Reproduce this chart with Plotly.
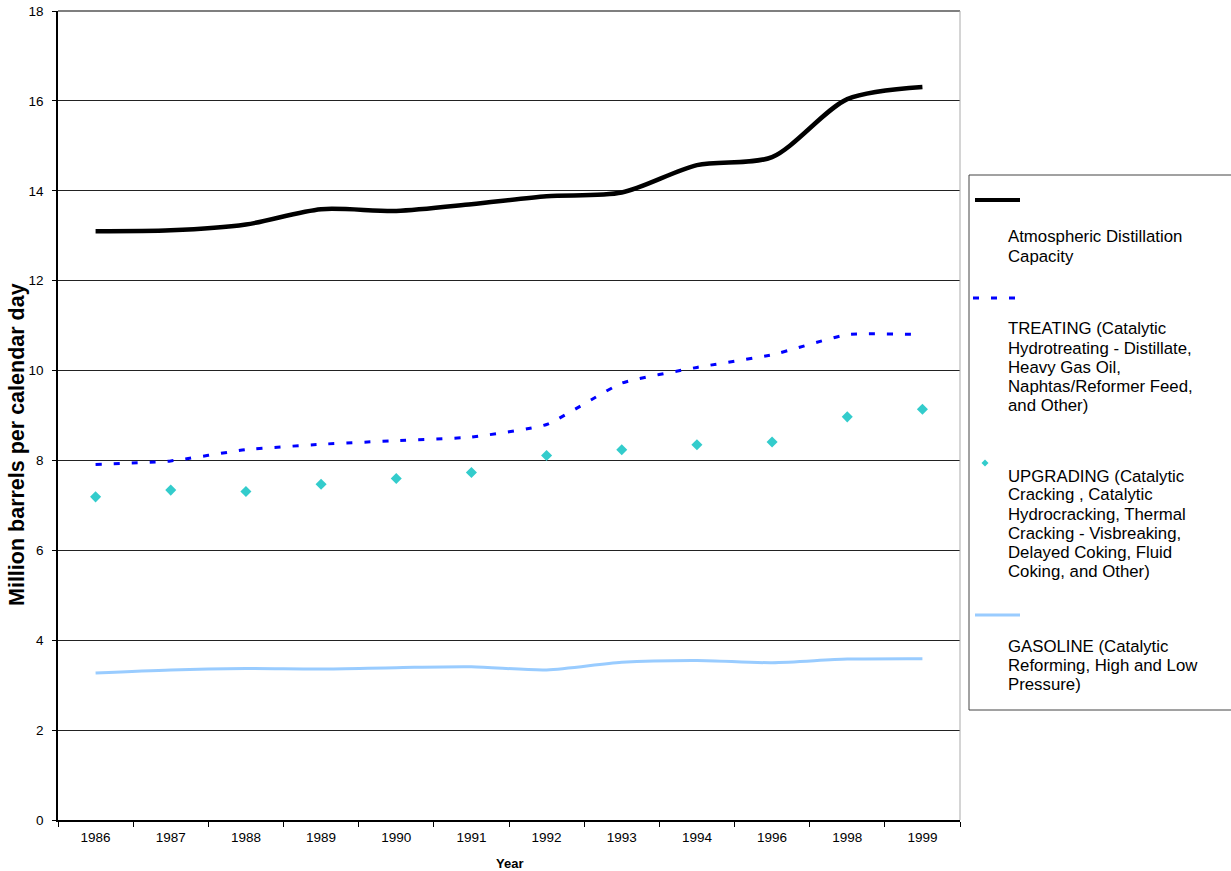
import plotly.graph_objects as go

# Refinery capacity by process type, million barrels per calendar day
years = ["1986", "1987", "1988", "1989", "1990", "1991",
         "1992", "1993", "1994", "1996", "1998", "1999"]
atmospheric = [13.10, 13.12, 13.25, 13.59, 13.55, 13.70,
               13.88, 13.96, 14.57, 14.75, 16.04, 16.31]
treating = [7.91, 7.99, 8.24, 8.36, 8.44, 8.52,
            8.80, 9.72, 10.07, 10.35, 10.80, 10.80]
upgrading = [7.19, 7.34, 7.31, 7.47, 7.60, 7.73,
             8.11, 8.24, 8.35, 8.41, 8.97, 9.14]
gasoline = [3.27, 3.34, 3.37, 3.36, 3.39, 3.41,
            3.34, 3.51, 3.55, 3.50, 3.58, 3.59]

y_ticks = list(range(0, 19, 2))

legend_blocks = [
    ["Atmospheric Distillation", "Capacity"],
    ["TREATING (Catalytic", "Hydrotreating - Distillate,", "Heavy Gas Oil,",
     "Naphtas/Reformer Feed,", "and Other)"],
    ["UPGRADING (Catalytic", "Cracking , Catalytic", "Hydrocracking, Thermal",
     "Cracking - Visbreaking,", "Delayed Coking, Fluid", "Coking, and Other)"],
    ["GASOLINE (Catalytic", "Reforming, High and Low", "Pressure)"],
]

FONT = "Liberation Sans, Arial, sans-serif"
W, H = 1231, 871
L, R, T, B = 58, 960, 11, 820  # plot area in pixels


def px(x):
    return (x - L) / (R - L)


def py(y):
    return (B - y) / (B - T)


fig = go.Figure()
fig.add_trace(go.Scatter(x=years, y=atmospheric, mode="lines",
                         line=dict(color="#000000", width=4.5, shape="spline", smoothing=0.8)))
fig.add_trace(go.Scatter(x=years, y=treating, mode="lines",
                         line=dict(color="#0000FF", width=3, dash="6px,12px",
                                   shape="spline", smoothing=0.45)))
fig.add_trace(go.Scatter(x=years, y=upgrading, mode="markers",
                         marker=dict(symbol="diamond", size=8.5, color="#33CCCC")))
fig.add_trace(go.Scatter(x=years, y=gasoline, mode="lines",
                         line=dict(color="#99CCFF", width=3, shape="spline", smoothing=0.8)))

shapes = [
    # top and right frame of the plot area
    dict(type="line", xref="paper", yref="paper", x0=0, x1=1, y0=1, y1=1,
         line=dict(color="#555555", width=1.5)),
    dict(type="line", xref="paper", yref="paper", x0=1, x1=1, y0=0, y1=1,
         line=dict(color="#AAAAAA", width=1)),
    # legend box
    dict(type="rect", xref="paper", yref="paper",
         x0=px(969), x1=px(1240), y0=py(710), y1=py(175),
         line=dict(color="#444444", width=1), fillcolor="white"),
    # legend keys
    dict(type="line", xref="paper", yref="paper", x0=px(975), x1=px(1020),
         y0=py(200), y1=py(200), line=dict(color="#000000", width=4)),
    dict(type="line", xref="paper", yref="paper", x0=px(973), x1=px(1020),
         y0=py(298), y1=py(298), line=dict(color="#0000FF", width=3, dash="6px,12px")),
    dict(type="path", xref="paper", yref="paper",
         path="M {} {} L {} {} L {} {} L {} {} Z".format(
             px(981.5), py(463), px(985), py(459.5), px(988.5), py(463), px(985), py(466.5)),
         line=dict(color="#33CCCC", width=0), fillcolor="#33CCCC"),
    dict(type="line", xref="paper", yref="paper", x0=px(975), x1=px(1020),
         y0=py(615), y1=py(615), line=dict(color="#99CCFF", width=3)),
]

annotations = []
block_starts = [237, 329, 476, 646]
for lines, y0 in zip(legend_blocks, block_starts):
    for i, text in enumerate(lines):
        annotations.append(dict(
            text=text, xref="paper", yref="paper", x=px(1006), y=py(y0 + i * 19),
            xanchor="left", yanchor="middle", showarrow=False,
            font=dict(family=FONT, size=16.8, color="#000000")))

annotations.append(dict(
    text="<b>Year</b>", xref="paper", yref="paper", x=px(509), y=py(864),
    xanchor="center", yanchor="middle", showarrow=False,
    font=dict(family=FONT, size=13, color="#000000")))
annotations.append(dict(
    text="<b>Million barrels per calendar day</b>", xref="paper", yref="paper",
    x=px(17), y=py(445), xanchor="center", yanchor="middle", textangle=-90,
    showarrow=False, font=dict(family=FONT, size=21.5, color="#000000")))

fig.update_layout(
    width=W, height=H,
    margin=dict(l=L, r=W - R, t=T, b=H - B, autoexpand=False),
    paper_bgcolor="white", plot_bgcolor="white",
    showlegend=False,
    font=dict(family=FONT, size=13.5, color="#000000"),
    shapes=shapes, annotations=annotations,
    xaxis=dict(type="category", tickson="boundaries", ticks="outside", ticklen=5,
               tickcolor="#000000", showline=True, linecolor="#000000", linewidth=1.5,
               showgrid=False, zeroline=False, range=[-0.5, 11.5],
               tickfont=dict(family=FONT, size=13.5), ticklabelstandoff=4),
    yaxis=dict(range=[0, 18], tickvals=y_ticks, ticks="outside", ticklen=4,
               tickcolor="#000000", showline=True, linecolor="#000000", linewidth=1.5,
               showgrid=True, gridcolor="#222222", gridwidth=1, zeroline=False,
               tickfont=dict(family=FONT, size=13.5), ticklabelstandoff=6),
)

fig.write_html("out.html")
